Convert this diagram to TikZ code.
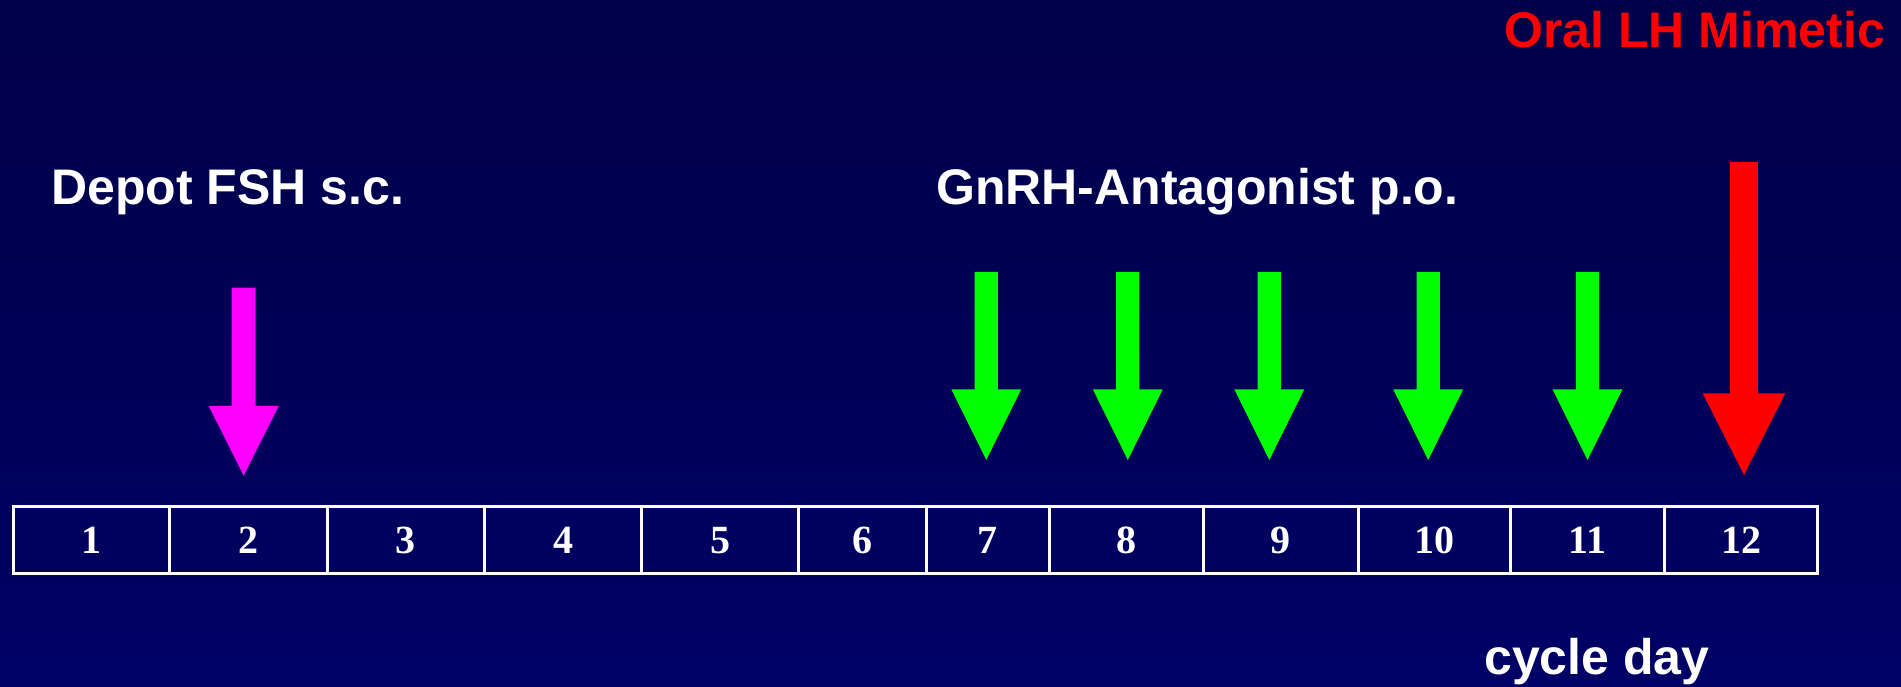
\documentclass[tikz,border=0pt]{standalone}
\usepackage{fontspec}
\setmainfont{Liberation Sans}
\newfontfamily\numfont{Liberation Serif}
\definecolor{bgtop}{RGB}{0,0,72}
\definecolor{bgbottom}{RGB}{0,0,102}
\definecolor{fshmag}{RGB}{255,0,255}
\definecolor{antgreen}{RGB}{0,255,0}
\definecolor{lhred}{RGB}{255,0,0}
% block arrow: centre x, top of shaft, base of head, tip, shaft half-width, head half-width, colour
\newcommand\blockarrow[7]{%
  \fill[#7] ({#1-#5},#2) -- ({#1+#5},#2) -- ({#1+#5},#3) -- ({#1+#6},#3)
    -- (#1,#4) -- ({#1-#6},#3) -- ({#1-#5},#3) -- cycle;}
\tikzset{
  daycell/.style={draw=white, line width=3pt, inner sep=0pt, minimum height=66.5pt,
    text=white, font=\numfont\bfseries\fontsize{40}{40}\selectfont},
  label/.style={anchor=base west, inner sep=0pt, font=\bfseries\fontsize{50}{60}\selectfont},
}
\begin{document}
\begin{tikzpicture}[x=1pt,y=1pt]
  \shade[top color=bgtop, bottom color=bgbottom] (0,0) rectangle (1901,687);
  \useasboundingbox (0,0) rectangle (1901,687);

  % cycle day scale
  \foreach \l/\r/\n in {13.3/169.9/1, 169.9/327/2, 327/484.9/3, 484.9/641.6/4,
      641.6/798.9/5, 798.9/926.1/6, 926.1/1049.8/7, 1049.8/1203.7/8,
      1203.7/1358/9, 1358/1510.3/10, 1510.3/1664.3/11, 1664.3/1817.7/12}{
    \node[daycell, minimum width={\r-\l}] (c\n) at ({(\l+\r)/2},146.75) {\n};
  }

  % headings
  \node[label, text=lhred] (lh) at (1504,639.3) {Oral LH Mimetic};
  \node[label, text=white] (fsh) at (51,482) {Depot FSH s.c.};
  \node[label, text=white] (gnrh) at (936,482) {GnRH-Antagonist p.o.};
  \node[label, text=white] (cd) at (1484,12) {cycle day};

  % depot FSH injection
  \blockarrow{243.7}{399.3}{281}{211.3}{12}{35}{fshmag}
  % daily oral antagonist
  \foreach \cx in {986.3, 1127.8, 1269.3, 1428.2, 1587.5}{
    \blockarrow{\cx}{415}{297.7}{227}{11.6}{35}{antgreen}
  }
  % oral LH mimetic trigger
  \blockarrow{1744}{525}{293.7}{212}{13.9}{41.3}{lhred}
\end{tikzpicture}
\end{document}
